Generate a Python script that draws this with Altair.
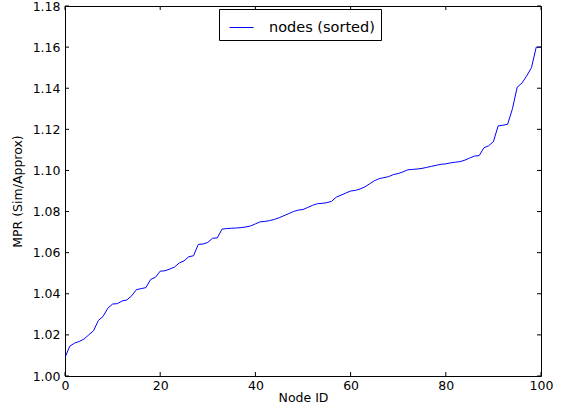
import altair as alt
import pandas as pd

# Sorted MPR ratio (simulated / approximated) per node
node_id = list(range(101))
mpr_sorted = [
    1.009, 1.0145, 1.016, 1.0168, 1.018, 1.020, 1.022, 1.027, 1.029, 1.033,
    1.035, 1.0352, 1.0365, 1.037, 1.039, 1.042, 1.0425, 1.043, 1.047, 1.048,
    1.051, 1.0512, 1.052, 1.053, 1.055, 1.056, 1.058, 1.0585, 1.064, 1.0642,
    1.065, 1.067, 1.0672, 1.0715, 1.0717, 1.0719, 1.072, 1.0722, 1.0725, 1.073,
    1.074, 1.075, 1.0752, 1.0756, 1.0762, 1.077, 1.078, 1.079, 1.080, 1.0807,
    1.081, 1.082, 1.083, 1.0838, 1.084, 1.0843, 1.085, 1.087, 1.088, 1.089,
    1.090, 1.0903, 1.091, 1.092, 1.0935, 1.095, 1.096, 1.0965, 1.097, 1.098,
    1.0985, 1.0993, 1.1003, 1.1005, 1.1007, 1.101, 1.1015, 1.102, 1.1025, 1.103,
    1.1032, 1.1037, 1.104, 1.1043, 1.105, 1.106, 1.107, 1.1072, 1.111, 1.112,
    1.114, 1.1217, 1.122, 1.1225, 1.130, 1.1405, 1.1425, 1.146, 1.150, 1.160,
    1.160,
]
series_name = "nodes (sorted)"

x_ticks = [0, 20, 40, 60, 80, 100]
y_ticks = [1.00, 1.02, 1.04, 1.06, 1.08, 1.10, 1.12, 1.14, 1.16, 1.18]

W, H = 476, 370
FONT = "DejaVu Sans"
TICK_LEN = 4

df = pd.DataFrame({"node": node_id, "mpr": mpr_sorted, "series": series_name})
xt = pd.DataFrame({"t": x_ticks})
yt = pd.DataFrame({"t": y_ticks})

x_scale = alt.Scale(domain=[0, 100], nice=False, zero=False)
y_scale = alt.Scale(domain=[1.0, 1.18], nice=False, zero=False)

line = alt.Chart(df).mark_line(strokeWidth=1, clip=True).encode(
    x=alt.X("node:Q", scale=x_scale, title="Node ID",
            axis=alt.Axis(values=x_ticks, format="d")),
    y=alt.Y("mpr:Q", scale=y_scale, title="MPR (Sim/Approx)",
            axis=alt.Axis(values=y_ticks, format=".2f")),
    color=alt.Color("series:N", scale=alt.Scale(range=["#0000ff"]),
                    legend=alt.Legend(
                        title=None, orient="none", legendX=154, legendY=3,
                        strokeColor="black", fillColor="white", padding=6,
                        cornerRadius=0, symbolType="stroke", symbolSize=576,
                        symbolStrokeWidth=1, symbolOffset=4, labelOffset=15,
                        labelFont=FONT, labelFontSize=14.5, labelColor="black")),
)

# inward tick marks on all four sides of the frame
bottom_ticks = alt.Chart(xt).mark_rule(color="black", strokeWidth=1).encode(
    x=alt.X("t:Q", scale=x_scale), y=alt.value(H), y2=alt.value(H - TICK_LEN))
top_ticks = alt.Chart(xt).mark_rule(color="black", strokeWidth=1).encode(
    x=alt.X("t:Q", scale=x_scale), y=alt.value(0), y2=alt.value(TICK_LEN))
left_ticks = alt.Chart(yt).mark_rule(color="black", strokeWidth=1).encode(
    y=alt.Y("t:Q", scale=y_scale), x=alt.value(0), x2=alt.value(TICK_LEN))
right_ticks = alt.Chart(yt).mark_rule(color="black", strokeWidth=1).encode(
    y=alt.Y("t:Q", scale=y_scale), x=alt.value(W), x2=alt.value(W - TICK_LEN))

chart = alt.layer(line, bottom_ticks, top_ticks, left_ticks, right_ticks).properties(
    width=W, height=H,
    autosize=alt.AutoSizeParams(type="none"),
    padding={"left": 65, "top": 6, "right": 24, "bottom": 33},
).configure_view(
    stroke="black", strokeWidth=1
).configure_axis(
    grid=False, domain=False, ticks=False, labelPadding=5,
    labelFont=FONT, labelFontSize=12.5, labelColor="black",
    titleFont=FONT, titleFontSize=12.5, titleFontWeight="normal", titleColor="black",
).configure_axisX(
    labelPadding=3, titlePadding=0, labelAlign="center",
).configure_axisY(
    titlePadding=8,
)

chart.save("out.html", embed_options={"renderer": "svg", "actions": False})
